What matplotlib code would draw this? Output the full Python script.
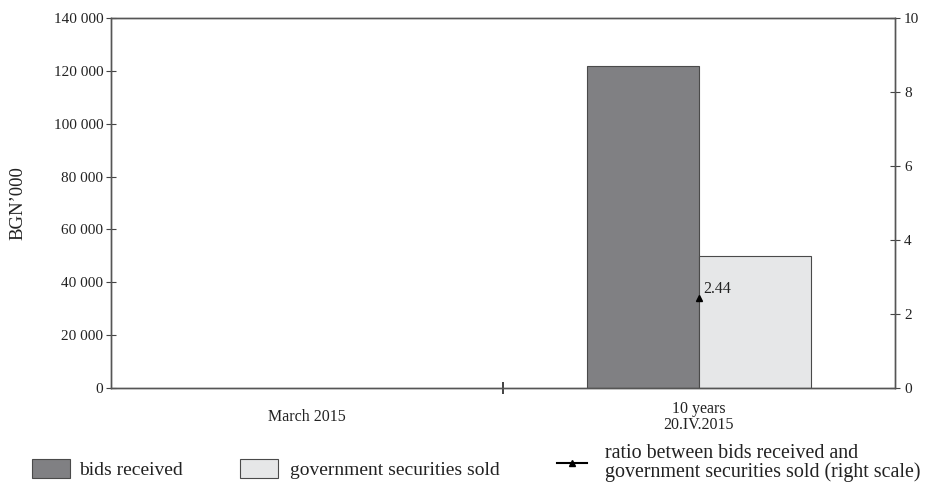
import numpy as np
import matplotlib
matplotlib.use("Agg")
import matplotlib.pyplot as plt
from matplotlib.patches import Patch
from matplotlib.lines import Line2D
from matplotlib.ticker import FuncFormatter

plt.rcParams['font.family'] = ['Liberation Serif', 'DejaVu Serif']

# data
categories = ["March 2015", "10 years\n20.IV.2015"]
bids_received = [np.nan, 122000]
securities_sold = [np.nan, 50000]
ratio = [np.nan, 2.44]
ratio_labels = ["", "2.44"]

dark = "#808083"
light = "#e6e7e8"
edge = "#4a4a4a"
txt = "#222222"

fig = plt.figure(figsize=(9.27, 4.87), dpi=100)
ax = fig.add_axes([111 / 927, 99 / 487, 784 / 927, 370 / 487])
ax2 = ax.twinx()

x = np.arange(len(categories))
w = 0.2857
ax.bar(x - w / 2, bids_received, w, color=dark, edgecolor=edge, linewidth=0.8)
ax.bar(x + w / 2, securities_sold, w, color=light, edgecolor=edge, linewidth=0.8)

ax2.plot(x, ratio, color="black", marker="^", markersize=5, linestyle="-", linewidth=1)
for xi, r, lab in zip(x, ratio, ratio_labels):
    if lab:
        ax2.annotate(lab, (xi, r), xytext=(3, 6), textcoords="offset points",
                     ha="left", va="center", fontsize=11.5, color=txt)

ax.set_xlim(-0.5, 1.5)
ax.set_ylim(0, 140000)
ax2.set_ylim(0, 10)
ax.set_yticks(np.arange(0, 140001, 20000))
ax.yaxis.set_major_formatter(FuncFormatter(lambda v, p: "{:,}".format(int(v)).replace(",", " ")))
ax2.set_yticks(np.arange(0, 11, 2))

ax.set_xticks([0.5])
ax.set_xticklabels([""])
ax.set_xticks(x, minor=True)
ax.set_xticklabels(categories, minor=True)
ax.tick_params(axis="x", which="minor", length=0, pad=21, labelsize=11.5, labelcolor=txt)
for t in ax.get_xticklabels(minor=True):
    t.set_verticalalignment("center")
    t.set_multialignment("center")
    t.set_linespacing(1.05)
ax.tick_params(axis="x", which="major", direction="inout", length=8, width=1.2, color=txt)

ax.tick_params(axis="y", direction="inout", length=7, color="#444444", labelsize=11, labelcolor=txt, pad=2)
ax2.tick_params(axis="y", direction="inout", length=7, color="#444444", labelsize=11, labelcolor=txt, pad=3)

for a in (ax, ax2):
    for s in a.spines.values():
        s.set_color("#555555")
        s.set_linewidth(1)

ax.set_ylabel("BGN’000", fontsize=13.5, color=txt, labelpad=20)

legend_specs = [
    (Patch(facecolor=dark, edgecolor=edge, linewidth=0.8), "bids received", 32 / 927, 1.96, 0.46),
    (Patch(facecolor=light, edgecolor=edge, linewidth=0.8), "government securities sold", 240 / 927, 1.96, 0.6),
]
for h, l, xpos, hl, tp in legend_specs:
    fig.legend([h], [l], loc="center left", bbox_to_anchor=(xpos, 0.037), frameon=False,
               fontsize=14, handlelength=hl, handleheight=1.13, handletextpad=tp,
               borderpad=0, borderaxespad=0, labelcolor=txt)

ratio_handle = Line2D([], [], color="black", marker="^", markersize=5, linewidth=1.5)
leg = fig.legend([ratio_handle],
                 ["ratio between bids received and\ngovernment securities sold (right scale)"],
                 loc="center left", bbox_to_anchor=(557 / 927, 0.05), frameon=False,
                 fontsize=14.4, handlelength=1.5, handletextpad=0.9, borderpad=0, borderaxespad=0,
                 labelcolor=txt)
for t in leg.get_texts():
    t.set_linespacing(0.95)

fig.savefig("out.png", dpi=100)
